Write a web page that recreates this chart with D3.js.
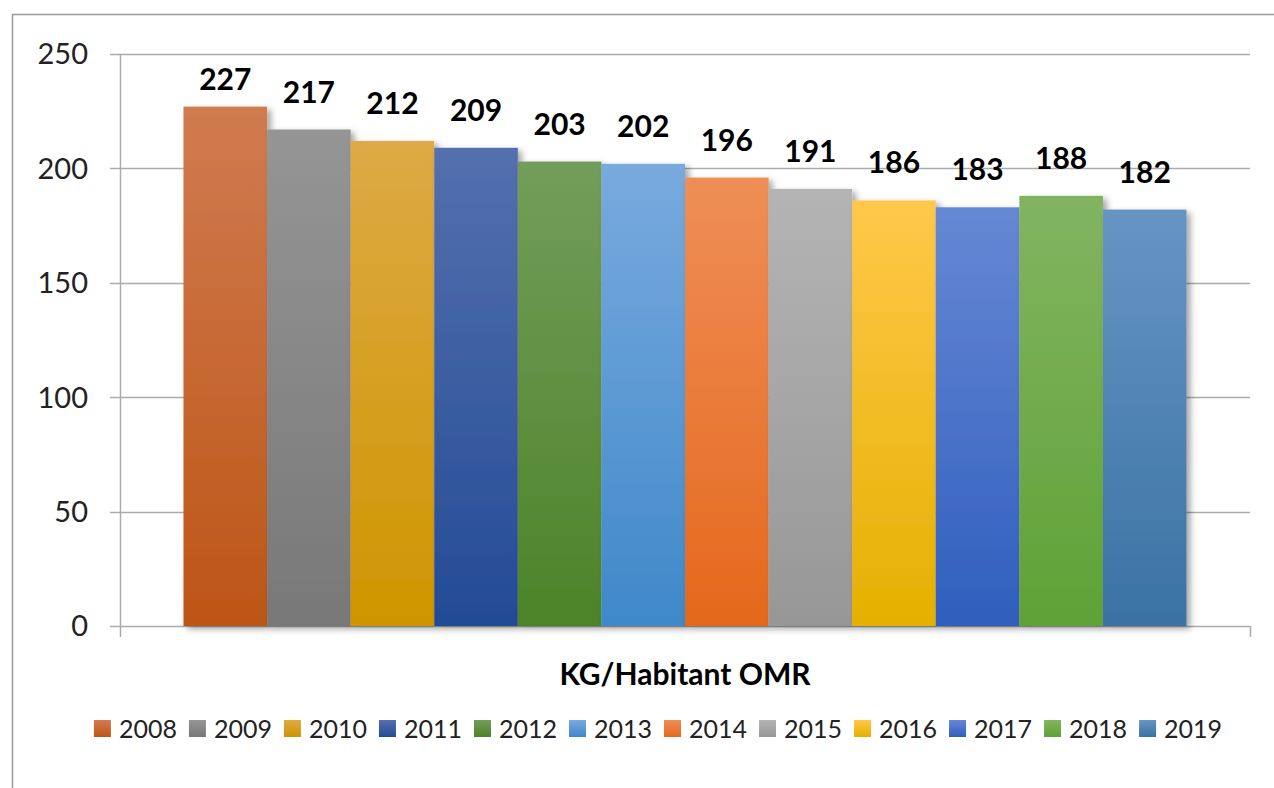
<!DOCTYPE html>
<html>
<head>
<meta charset="utf-8">
<script src="https://cdn.jsdelivr.net/npm/d3@7"></script>
<style>
  body { margin: 0; background: #fff; }
  text { font-family: Lato, "Open Sans", sans-serif; fill: #222; }
</style>
</head>
<body>
<div id="chart"></div>
<script>
// data
var categories = ["KG/Habitant OMR"];
var years = ["2008", "2009", "2010", "2011", "2012", "2013", "2014", "2015", "2016", "2017", "2018", "2019"];
var values = [227, 217, 212, 209, 203, 202, 196, 191, 186, 183, 188, 182];
var yTicks = [0, 50, 100, 150, 200, 250];

// colours, top / bottom of each bar gradient
var colorsTop = ["#d07b50", "#959595", "#ddaa45", "#5470ae", "#739d5b", "#79aade", "#ef8e57", "#b4b4b4", "#ffc84a", "#6688d4", "#82b461", "#6695c4"];
var colorsBottom = ["#bd5516", "#787878", "#cf9500", "#234b95", "#4c8328", "#3f88c9", "#e5681c", "#979797", "#e5b000", "#2f5ebd", "#5fa236", "#3a72a4"];

var W = 1274, H = 788;
var margin = {left: 120, right: 24, top: 54, bottom: 162};

var svg = d3.select("#chart").append("svg")
  .attr("width", W)
  .attr("height", H);

var defs = svg.append("defs");

// gradients
years.forEach(function(yr, i) {
  var g = defs.append("linearGradient")
    .attr("id", "grad" + i)
    .attr("x1", "0%").attr("y1", "0%")
    .attr("x2", "0%").attr("y2", "100%");
  g.append("stop").attr("offset", "0%").attr("stop-color", colorsTop[i]);
  g.append("stop").attr("offset", "100%").attr("stop-color", colorsBottom[i]);
});

// soft shadow like excel
var f = defs.append("filter").attr("id", "shadow")
  .attr("x", "-10%").attr("y", "-10%").attr("width", "130%").attr("height", "130%");
f.append("feDropShadow")
  .attr("dx", 4).attr("dy", 3)
  .attr("stdDeviation", 3)
  .attr("flood-color", "#000")
  .attr("flood-opacity", 0.35);

// outer chart frame
svg.append("rect")
  .attr("x", 12.5).attr("y", 14.5)
  .attr("width", W + 20).attr("height", H + 20)
  .attr("fill", "none")
  .attr("stroke", "#9a9a9a")
  .attr("stroke-width", 1.5);

var x0 = margin.left, x1 = W - margin.right;
var yBottom = H - margin.bottom, yTop = margin.top;

var y = d3.scaleLinear().domain([0, 250]).range([yBottom, yTop]);

var xCat = d3.scaleBand()
  .domain(categories)
  .range([x0, x1])
  .paddingInner(0)
  .paddingOuter(0.0633);

var xYear = d3.scaleBand()
  .domain(years)
  .range([xCat(categories[0]), xCat(categories[0]) + xCat.bandwidth()])
  .padding(0);

// gridlines + y ticks
var gridColor = "#ababab";
svg.append("g")
  .selectAll("line")
  .data(yTicks)
  .enter()
  .append("line")
  .attr("x1", x0 - 10)
  .attr("x2", x1)
  .attr("y1", function(d) { return Math.round(y(d)) + 0.5; })
  .attr("y2", function(d) { return Math.round(y(d)) + 0.5; })
  .attr("stroke", gridColor)
  .attr("stroke-width", 1.5);

svg.append("g")
  .selectAll("text")
  .data(yTicks)
  .enter()
  .append("text")
  .attr("x", x0 - 32)
  .attr("y", function(d) { return y(d); })
  .attr("dy", "0.36em")
  .attr("text-anchor", "end")
  .style("font-size", "29px")
  .text(function(d) { return d; });

// y axis line
svg.append("line")
  .attr("x1", x0 + 0.5).attr("x2", x0 + 0.5)
  .attr("y1", yTop).attr("y2", yBottom + 11)
  .attr("stroke", gridColor).attr("stroke-width", 1.5);

// category ticks on x axis
svg.append("line")
  .attr("x1", x1 + 0.5).attr("x2", x1 + 0.5)
  .attr("y1", yBottom).attr("y2", yBottom + 11)
  .attr("stroke", gridColor).attr("stroke-width", 1.5);

// bars
svg.append("g")
  .selectAll("rect")
  .data(values)
  .enter()
  .append("rect")
  .attr("x", function(d, i) { return xYear(years[i]); })
  .attr("y", function(d) { return y(d); })
  .attr("width", xYear.bandwidth())
  .attr("height", function(d) { return y(0) - y(d); })
  .attr("fill", function(d, i) { return "url(#grad" + i + ")"; })
  .attr("filter", "url(#shadow)");

// value labels (excel keeps them inside the plot area)
svg.append("g")
  .selectAll("text")
  .data(values)
  .enter()
  .append("text")
  .attr("x", function(d, i) { return xYear(years[i]) + xYear.bandwidth() / 2; })
  .attr("y", function(d) { return Math.max(y(d) - 27, y(250) + 36); })
  .attr("text-anchor", "middle")
  .style("font-size", "30px")
  .style("font-weight", "bold")
  .style("fill", "#000")
  .text(function(d) { return d; });

// category title
svg.append("text")
  .attr("x", xCat(categories[0]) + xCat.bandwidth() / 2)
  .attr("y", 685)
  .attr("text-anchor", "middle")
  .style("font-size", "30px")
  .style("font-weight", "bold")
  .style("fill", "#000")
  .text(categories[0]);

// legend
var legend = svg.append("g");
var lx = 0;
years.forEach(function(yr, i) {
  var item = legend.append("g").attr("transform", "translate(" + lx + ",0)");
  item.append("rect")
    .attr("x", 0).attr("y", 720)
    .attr("width", 17).attr("height", 17)
    .attr("fill", "url(#grad" + i + ")");
  var t = item.append("text")
    .attr("x", 25).attr("y", 738)
    .style("font-size", "25px")
    .text(yr);
  lx += 25 + t.node().getComputedTextLength() + 12;
});
var legendW = lx - 12;
legend.attr("transform", "translate(" + (658 - legendW / 2) + ",0)");
</script>
</body>
</html>
